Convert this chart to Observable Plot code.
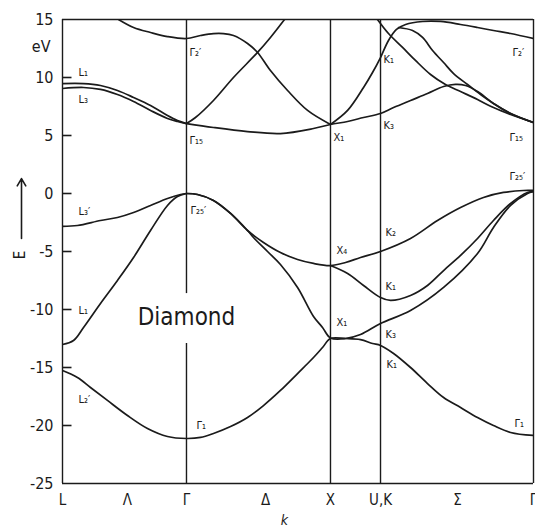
<!DOCTYPE html>
<html><head><meta charset="utf-8">
<script src="https://cdn.jsdelivr.net/npm/d3@7"></script>
<script src="https://cdn.jsdelivr.net/npm/@observablehq/plot@0.6"></script>
<style>
html,body{margin:0;padding:0;background:#fff;}
#chart svg{display:block;}
</style></head><body><div id="chart"></div>
<script>
// Symmetry points along k (units of 2π/a, Γ–X = 1)
const kPoints = [0, 0.855, 1.848, 2.193, 3.248];           // L Γ X U,K Γ
const kTickPos = [0, 0.448, 0.855, 1.40, 1.848, 2.193, 2.724, 3.248];
const kTickText = ["L", "Λ", "Γ", "Δ", "X", "U,K", "Σ", "Γ"];
const yTicks = [15, 10, 5, 0, -5, -10, -15, -20, -25];

// Valence bands [k, E in eV]
const bandV1 = [[0,-15.26],[0.103,-15.86],[0.193,-16.72],[0.310,-17.84],[0.448,-19.14],[0.586,-20.26],[0.724,-20.95],[0.855,-21.12],[0.952,-21.03],[1.041,-20.69],[1.159,-20.09],[1.276,-19.31],[1.386,-18.28],[1.503,-16.98],[1.621,-15.52],[1.731,-14.14],[1.793,-13.28],[1.848,-12.50],[1.952,-12.50],[2.055,-12.59],[2.138,-12.93],[2.193,-13.10],[2.283,-13.79],[2.400,-15.0],[2.517,-16.38],[2.628,-17.59],[2.745,-18.45],[2.862,-19.31],[2.972,-20.0],[3.090,-20.60],[3.248,-20.86]];
const bandV2 = [[0.855,0],[0.931,-0.09],[1.041,-0.60],[1.159,-1.72],[1.276,-3.19],[1.317,-3.79],[1.414,-5.0],[1.503,-6.12],[1.621,-8.10],[1.731,-10.6],[1.793,-11.55],[1.848,-12.45],[1.952,-12.50],[2.055,-12.16],[2.193,-11.21],[2.400,-10.09],[2.628,-8.10],[2.862,-5.17],[2.972,-2.93],[3.090,-1.03],[3.207,0],[3.248,0.17]];
const bandV3 = [[0.855,0],[0.931,-0.09],[1.041,-0.60],[1.159,-1.72],[1.276,-3.19],[1.386,-4.22],[1.503,-5.09],[1.621,-5.69],[1.731,-6.03],[1.848,-6.21],[1.952,-5.95],[2.055,-5.52],[2.193,-5.0],[2.400,-3.88],[2.586,-2.33],[2.745,-1.21],[2.903,-0.34],[3.041,0.09],[3.179,0.26],[3.248,0.26]];
const bandV4 = [[1.848,-6.21],[1.966,-6.90],[2.076,-7.93],[2.193,-8.97],[2.262,-9.22],[2.400,-8.79],[2.517,-7.93],[2.628,-6.64],[2.745,-5.34],[2.862,-3.88],[2.972,-2.33],[3.090,-0.86],[3.207,0.09],[3.248,0.17]];
const bandV5 = [[0,-2.84],[0.103,-2.76],[0.262,-2.33],[0.379,-2.07],[0.490,-1.64],[0.607,-1.03],[0.724,-0.43],[0.814,-0.09],[0.855,0]];
const bandV6 = [[0,-13.02],[0.076,-12.67],[0.145,-11.55],[0.262,-9.48],[0.379,-7.50],[0.490,-5.52],[0.607,-3.19],[0.724,-1.03],[0.793,-0.26],[0.855,0]];

// Conduction bands [k, E in eV]
const bandC1 = [[0,9.48],[0.145,9.48],[0.262,9.31],[0.379,8.88],[0.490,8.28],[0.607,7.59],[0.724,6.72],[0.793,6.29],[0.855,6.03]];
const bandC2 = [[0,9.05],[0.145,9.14],[0.262,8.97],[0.379,8.53],[0.490,7.93],[0.607,7.16],[0.724,6.47],[0.793,6.21],[0.855,6.03]];
const bandC3 = [[0.855,6.03],[1.041,5.69],[1.276,5.34],[1.503,5.17],[1.731,5.60],[1.848,5.95],[1.966,6.21],[2.076,6.55],[2.193,6.90],[2.283,7.41],[2.400,8.02],[2.517,8.62],[2.628,9.22],[2.710,9.40],[2.779,9.31],[2.862,8.79],[2.972,7.76],[3.090,6.90],[3.248,6.12]];
const bandC4 = [[0.855,6.03],[0.917,6.55],[1.041,8.02],[1.179,10.0],[1.345,12.16],[1.434,13.45],[1.531,15.0]];
const bandC5 = [[0.386,15.0],[0.490,14.31],[0.607,13.88],[0.724,13.53],[0.855,13.36],[0.952,13.62],[1.041,13.79],[1.110,13.79],[1.179,13.62],[1.276,12.93],[1.345,12.16],[1.434,10.60],[1.552,8.88],[1.690,7.16],[1.848,5.95]];
const bandC6 = [[1.848,5.95],[1.966,7.16],[2.076,9.14],[2.138,10.43],[2.193,11.72],[2.248,13.19],[2.303,14.14],[2.366,14.57],[2.483,14.83],[2.607,14.83],[2.745,14.57],[2.862,14.31],[2.972,14.05],[3.090,13.79],[3.248,13.36]];
const bandC7 = [[2.317,14.31],[2.414,14.05],[2.483,13.45],[2.552,12.33],[2.628,11.29],[2.697,10.34],[2.793,9.40],[2.883,8.53],[2.972,7.76],[3.090,6.90],[3.248,6.12]];
const bandC8 = [[2.172,15.0],[2.248,13.79],[2.345,12.59],[2.434,11.47],[2.538,10.26],[2.641,9.40],[2.745,8.79],[2.862,8.10],[2.972,7.41],[3.090,6.81],[3.248,6.12]];

// Point labels
const labelText = ["L₁","L₃","Γ₂′","Γ₁₅","X₁","K₁","K₃","Γ₂′","Γ₁₅","Γ₂₅′","Γ₂₅′","L₃′","L₁","L₂′","Γ₁","X₄","X₁","K₂","K₁","K₃","K₁","Γ₁"];
const labelK =    [0.110,0.110,0.876,0.876,1.869,2.214,2.214,3.103,3.083,3.083,0.883,0.110,0.110,0.110,0.924,1.890,1.890,2.228,2.228,2.228,2.234,3.117];
const labelE =    [10.43,8.10,12.16,4.57,4.83,11.55,5.86,12.16,4.83,1.47,-1.47,-1.55,-10.09,-17.76,-20.0,-4.91,-11.12,-3.36,-8.02,-12.16,-14.74,-19.83];

const titleNote = [{text: "Diamond", k: 0.855, E: -10.69}];
const unitNote = [{text: "eV", k: 0, E: 12.67}];
const kAxisNote = [{text: "k", k: 1.531, E: -25}];
const eAxisNote = [{text: "E", k: 0, E: -5.3}];
const eArrow = [{k: 0, E1: -3.88, E2: 1.29}];

const bands = {V1: bandV1, V2: bandV2, V3: bandV3, V4: bandV4, V5: bandV5, V6: bandV6,
  C1: bandC1, C2: bandC2, C3: bandC3, C4: bandC4, C5: bandC5, C6: bandC6, C7: bandC7, C8: bandC8};
const rows = Object.entries(bands).flatMap(([band, pts]) => pts.map(([k, E]) => ({band, k, E})));
const labels = labelText.map((text, i) => ({text, k: labelK[i], E: labelE[i]}));
const tickRows = yTicks.slice(1, -1).map(E => ({E}));

const INK = "#1b1b1b";
const FONT = "'DejaVu Sans Condensed', 'DejaVu Sans', sans-serif";
const W = 535, ML = 62, MR = 2, TICK = 9;
const kMax = kPoints[kPoints.length - 1];
const tickLen = kMax * TICK / (W - ML - MR);   // inward tick length in k units

const chart = Plot.plot({
  width: W, height: 529,
  marginLeft: ML, marginRight: MR, marginTop: 19, marginBottom: 46,
  x: {domain: [0, kMax]},
  y: {domain: [-25, 15]},
  style: {fontFamily: FONT, background: "white", color: INK},
  marks: [
    Plot.ruleX(kPoints, {y1: -25, y2: 15, stroke: INK, strokeWidth: 1.4}),
    Plot.ruleY([15, -25], {stroke: INK, strokeWidth: 1.4}),
    Plot.link(tickRows, {x1: () => 0, x2: () => tickLen, y1: "E", y2: "E", stroke: INK, strokeWidth: 1.6}),
    Plot.axisY({ticks: yTicks, tickSize: 0, tickPadding: 9, tickFormat: d => String(d), fontSize: 16, label: null}),
    Plot.axisX({ticks: kTickPos, tickSize: 0, tickPadding: 11, tickFormat: d => kTickText[kTickPos.indexOf(d)], fontSize: 15, label: null}),
    Plot.line(rows, {x: "k", y: "E", z: "band", curve: "catmull-rom", stroke: INK, strokeWidth: 1.7, clip: true}),
    Plot.text(labels, {x: "k", y: "E", text: "text", textAnchor: "start", fontSize: 11, fill: INK}),
    Plot.text(titleNote, {x: "k", y: "E", text: "text", fontSize: 24, fill: INK, stroke: "white", strokeWidth: 36}),
    Plot.text(unitNote, {x: "k", y: "E", text: "text", textAnchor: "end", dx: -12, fontSize: 16, fill: INK}),
    Plot.text(kAxisNote, {x: "k", y: "E", text: "text", lineAnchor: "top", dy: 32, fontSize: 14, fontStyle: "italic", fill: INK}),
    Plot.text(eAxisNote, {x: "k", y: "E", text: "text", rotate: -90, dx: -42, fontSize: 15, fill: INK}),
    Plot.arrow(eArrow, {x1: "k", x2: "k", y1: "E1", y2: "E2", dx: -41, stroke: INK, strokeWidth: 1.6, headLength: 8})
  ]
});
document.getElementById("chart").append(chart);
</script></body></html>
